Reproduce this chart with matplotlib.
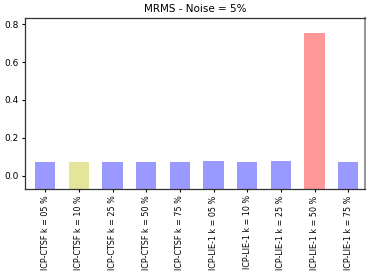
import matplotlib
matplotlib.use("Agg")
import matplotlib.pyplot as plt
import numpy as np

labels = ["ICP-CTSF k = 05 %", "ICP-CTSF k = 10 %", "ICP-CTSF k = 25 %",
          "ICP-CTSF k = 50 %", "ICP-CTSF k = 75 %", "ICP-LIE-1 k = 05 %",
          "ICP-LIE-1 k = 10 %", "ICP-LIE-1 k = 25 %", "ICP-LIE-1 k = 50 %",
          "ICP-LIE-1 k = 75 %"]
values = [0.074, 0.074, 0.074, 0.074, 0.074, 0.079, 0.074, 0.076, 0.756, 0.074]
colors = ["b", "y", "b", "b", "b", "b", "b", "b", "r", "b"]

ymin, ymax = -0.07, 0.833

fig = plt.figure(figsize=(3.74, 2.79), dpi=100)
ax = fig.add_axes([25/374, 1-189/279, 340/374, 171/279])
x = np.arange(len(values))
heights = [v - ymin for v in values]
ax.bar(x, heights, bottom=ymin, width=0.6, color=colors, alpha=0.4)
ax.set_xlim(-0.6, 9.5)
ax.set_ylim(ymin, ymax)
ax.set_yticks([0.0, 0.2, 0.4, 0.6, 0.8])
ax.set_yticklabels(["0.0", "0.2", "0.4", "0.6", "0.8"], fontsize=6.5)
ax.set_xticks(x)
ax.set_xticklabels(labels, rotation=90, fontsize=5.8)
ax.tick_params(length=2.5, width=0.8, pad=2)
ax.set_title("MRMS - Noise = 5%", fontsize=7.5, pad=4)
for s in ["left", "top", "bottom"]:
    ax.spines[s].set_color("#333333")
    ax.spines[s].set_linewidth(0.9)
ax.spines["right"].set_color("#999999")
ax.spines["right"].set_linewidth(1.5)
fig.savefig("out.png", dpi=100)
